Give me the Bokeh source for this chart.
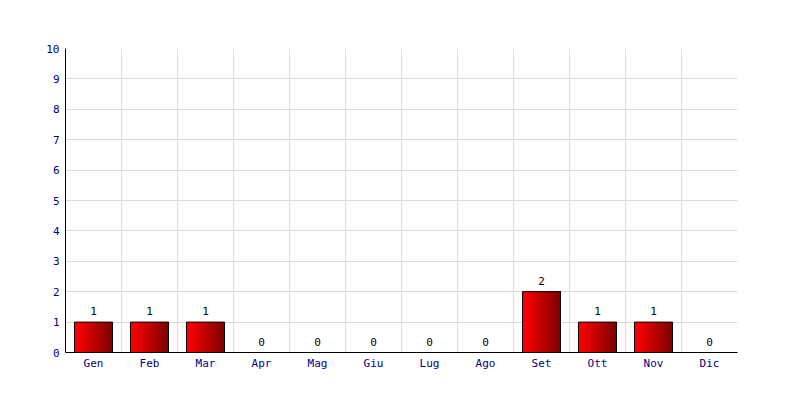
from bokeh.plotting import figure
from bokeh.models import Range1d, FixedTicker, ColumnDataSource
from bokeh.embed import file_html
from bokeh.resources import INLINE
from bokeh.core.properties import value

months = ["Gen", "Feb", "Mar", "Apr", "Mag", "Giu", "Lug", "Ago", "Set", "Ott", "Nov", "Dic"]
counts = [1, 1, 1, 0, 0, 0, 0, 0, 2, 1, 1, 0]
y_ticks = [0, 1, 2, 3, 4, 5, 6, 7, 8, 9, 10]

FONT = "DejaVu Sans Mono"
NAVY = "#000080"
GRID = "#dcdcdc"
BAR_W = 0.68
N_SLICES = 30

p = figure(width=784, height=384, output_backend="svg", toolbar_location=None,
           x_range=Range1d(-0.5, len(months) - 0.5), y_range=Range1d(0, 10),
           min_border_left=65, min_border_right=47, min_border_top=48, min_border_bottom=32)
p.outline_line_color = None
p.background_fill_color = "white"
p.border_fill_color = "white"

# gradient bars built from overlapping slices (each reaches the bar's right edge)
lefts, rights, tops, bottoms, colors = [], [], [], [], []
c0 = (255, 0, 0)
c1 = (128, 0, 0)
for i, v in enumerate(counts):
    if v <= 0:
        continue
    x0 = i - BAR_W / 2
    step = BAR_W / N_SLICES
    for k in range(N_SLICES):
        t = k / (N_SLICES - 1)
        col = tuple(int(round(a + (b - a) * t)) for a, b in zip(c0, c1))
        lefts.append(x0 + k * step)
        rights.append(i + BAR_W / 2)
        tops.append(v)
        bottoms.append(0)
        colors.append("#%02x%02x%02x" % col)
p.quad(left=lefts, right=rights, top=tops, bottom=bottoms, fill_color=colors, line_color=None)

# outlines
idx = [i for i, v in enumerate(counts) if v > 0]
p.quad(left=[i - BAR_W / 2 for i in idx], right=[i + BAR_W / 2 for i in idx],
       top=[counts[i] for i in idx], bottom=[0] * len(idx),
       fill_alpha=0, line_color="black", line_width=1)

# value labels
src = ColumnDataSource(dict(x=list(range(len(months))), y=counts, t=[str(c) for c in counts]))
p.text(x="x", y="y", text="t", source=src, text_align="center", text_baseline="bottom",
       y_offset=-7, text_font=value(FONT), text_font_size="11px", text_color="black")

# axes
p.xaxis.ticker = FixedTicker(ticks=list(range(len(months))))
p.xaxis.major_label_overrides = {i: m for i, m in enumerate(months)}
p.yaxis.ticker = FixedTicker(ticks=y_ticks)
for ax in (p.xaxis, p.yaxis):
    ax.major_tick_line_color = None
    ax.minor_tick_line_color = None
    ax.major_tick_out = 0
    ax.major_tick_in = 0
    ax.minor_tick_out = 0
    ax.minor_tick_in = 0
    ax.axis_line_color = "black"
    ax.axis_line_width = 1
    ax.major_label_text_font = FONT
    ax.major_label_text_font_size = "11px"
    ax.major_label_text_color = NAVY
p.xaxis.major_label_standoff = 4
p.yaxis.major_label_standoff = 6

p.xgrid.ticker = FixedTicker(ticks=[i + 0.5 for i in range(len(months))])
p.ygrid.ticker = FixedTicker(ticks=y_ticks[1:])
p.xgrid.grid_line_color = GRID
p.ygrid.grid_line_color = GRID

open("out.html", "w").write(file_html(p, INLINE))
